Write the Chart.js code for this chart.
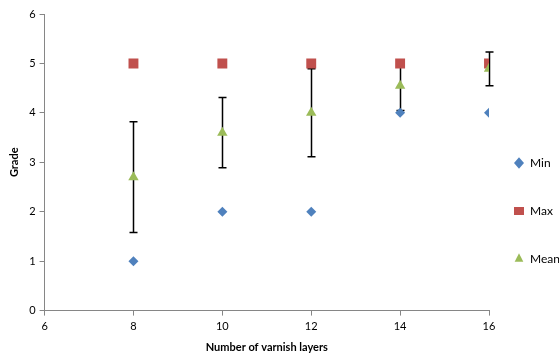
<!DOCTYPE html>
<html><head><meta charset="utf-8">
<script src="https://cdn.jsdelivr.net/npm/chart.js@4/dist/chart.umd.min.js"></script>
<style>html,body{margin:0;padding:0;background:#fff}#wrap{width:559px;height:356px}</style>
</head><body><div id="wrap"><canvas id="c" width="559" height="356"></canvas></div>
<script>
const layers = [8, 10, 12, 14, 16];
const minGrade = [1, 2, 2, 4, 4];
const maxGrade = [5, 5, 5, 5, 5];
const meanGrade = [2.7, 3.6, 4.0, 4.55, 4.89];
const meanErr = [1.12, 0.71, 0.89, 0.5, 0.34];
const xTicks = [6, 8, 10, 12, 14, 16];
const yTicks = [0, 1, 2, 3, 4, 5, 6];

const pts = arr => layers.map((x, i) => ({x: x, y: arr[i]}));
const FONT = 'Lato, "Liberation Sans", sans-serif';

const errorBars = {
  id: 'errorBars',
  beforeDatasetsDraw(chart) {
    const xs = chart.scales.x, ys = chart.scales.y, ctx = chart.ctx;
    ctx.save();
    ctx.strokeStyle = '#000';
    ctx.lineWidth = 1.5;
    layers.forEach((lx, i) => {
      const px = Math.round(xs.getPixelForValue(lx)) + 0.5;
      const top = ys.getPixelForValue(meanGrade[i] + meanErr[i]);
      const bot = ys.getPixelForValue(meanGrade[i] - meanErr[i]);
      ctx.beginPath();
      ctx.moveTo(px, top); ctx.lineTo(px, bot);
      ctx.moveTo(px - 4, top); ctx.lineTo(px + 4, top);
      ctx.moveTo(px - 4, bot); ctx.lineTo(px + 4, bot);
      ctx.stroke();
    });
    ctx.restore();
  }
};

const legendPlace = {
  id: 'legendPlace',
  afterInit(chart) {
    const lg = chart.legend;
    if (!lg) return;
    const f = lg.fit;
    lg.fit = function () { f.call(this); this.width = 70; };
  },
  afterLayout(chart) {
    const lg = chart.legend;
    if (!lg) return;
    lg.left -= 11; lg.right = chart.width;
    lg.top += 27; lg.bottom += 27;
  }
};

new Chart(document.getElementById('c'), {
  type: 'scatter',
  data: {
    datasets: [
      {label: 'Min', data: pts(minGrade), pointStyle: 'rectRot', pointRadius: 5, backgroundColor: '#4F81BD', borderColor: '#4F81BD', pointBorderWidth: 0, order: 3},
      {label: 'Max', data: pts(maxGrade), pointStyle: 'rect', pointRadius: 7, backgroundColor: '#C0504D', borderColor: '#C0504D', pointBorderWidth: 0, order: 2},
      {label: 'Mean', data: pts(meanGrade), pointStyle: 'triangle', pointRadius: 6, backgroundColor: '#9BBB59', borderColor: '#9BBB59', pointBorderWidth: 0, order: 1}
    ]
  },
  options: {
    responsive: false,
    animation: false,
    layout: {padding: {left: 8, right: 0, top: 14, bottom: 2}},
    plugins: {
      tooltip: {enabled: false},
      legend: {
        position: 'right',
        labels: {usePointStyle: true, pointStyleWidth: 10, boxHeight: 8, padding: 36, color: '#000', font: {family: FONT, size: 12},
          sort: (a, b) => a.datasetIndex - b.datasetIndex}
      }
    },
    scales: {
      x: {
        type: 'linear', min: 6, max: 16,
        afterBuildTicks: s => { s.ticks = xTicks.map(v => ({value: v})); },
        ticks: {color: '#000', font: {family: FONT, size: 11}, padding: 4},
        grid: {drawOnChartArea: false, drawTicks: true, tickLength: 5, color: '#868686'},
        border: {color: '#868686', width: 1},
        title: {display: true, text: 'Number of varnish layers', color: '#000', font: {family: FONT, size: 11, weight: 'bold'}, padding: {top: 4, bottom: 0}}
      },
      y: {
        type: 'linear', min: 0, max: 6,
        afterBuildTicks: s => { s.ticks = yTicks.map(v => ({value: v})); },
        ticks: {color: '#000', font: {family: FONT, size: 11}, padding: 4},
        grid: {drawOnChartArea: false, drawTicks: true, tickLength: 5, color: '#868686'},
        border: {color: '#868686', width: 1},
        title: {display: true, text: 'Grade', color: '#000', font: {family: FONT, size: 11, weight: 'bold'}, padding: {top: 0, bottom: 4}}
      }
    }
  },
  plugins: [errorBars, legendPlace]
});
</script></body></html>
